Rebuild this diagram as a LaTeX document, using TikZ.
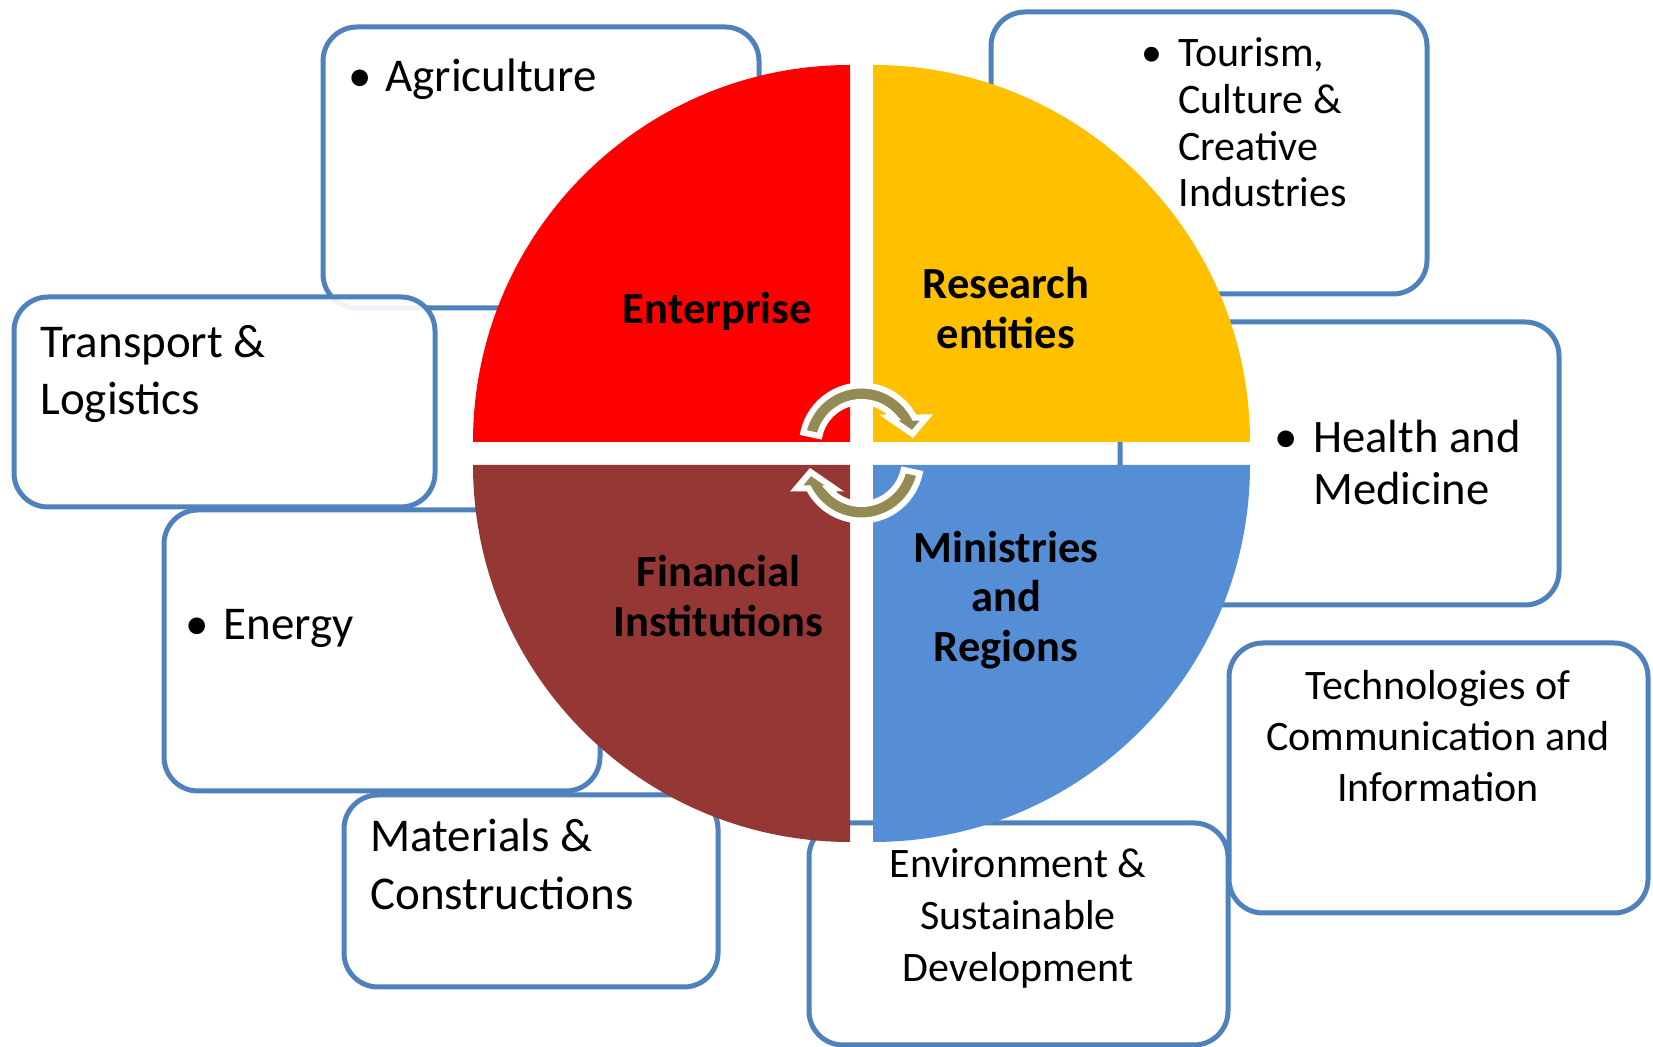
\documentclass[tikz,border=0pt]{standalone}
\usepackage{fontspec}
\setmainfont{Carlito}
\usepackage{xcolor}
\usetikzlibrary{shapes,arrows,calc}

\definecolor{boxblue}{HTML}{4F81BD}
\definecolor{quadred}{HTML}{FF0000}
\definecolor{quadyellow}{HTML}{FFC000}
\definecolor{quadbrown}{HTML}{953735}
\definecolor{quadblue}{HTML}{558ED5}
\definecolor{cycleolive}{HTML}{948A54}

\begin{document}
\begin{tikzpicture}[
    x=0.5pt, y=0.5pt,
    sector/.style={draw=boxblue, line width=2.5pt, fill=white, fill opacity=0.9, rounded corners=17pt},
    itemtext/.style={anchor=base west, align=left, inner sep=0pt, font=\fontsize{23.5}{28.5}\selectfont},
    bulletmark/.style={anchor=base, inner sep=0pt, font=\fontsize{23.5}{28.5}\selectfont},
    centertext/.style={anchor=base, align=center, inner sep=0pt, font=\fontsize{21}{25.5}\selectfont},
    actor/.style={anchor=base, align=center, inner sep=0pt, font=\bfseries\fontsize{22.25}{25}\selectfont},
    cyclearrow/.pic={
        \filldraw[fill=cycleolive, draw=white, line width=3pt]
            (168:59.5) arc[start angle=168, end angle=27.5, radius=59.5]
            -- (65,27.5) -- (51,11) -- (27,27.5)
            -- (39.8:43) arc[start angle=39.8, end angle=168, radius=43] -- cycle;
    }
]
\useasboundingbox (0,0) rectangle (1653,1047);

% sector boxes, back to front
\draw[sector] (323,739) rectangle (759,1020);
\draw[sector] (14,540) rectangle (435,750);
\draw[sector] (164,256) rectangle (600,537);
\draw[sector] (344,60) rectangle (718,252);
\draw[sector] (991,753) rectangle (1427,1035);
\draw[sector] (1120,442) rectangle (1559,725);
\draw[sector] (809,2) rectangle (1228,224);
\draw[sector] (1229,134) rectangle (1648,404);

% sector texts (multi-line nodes sit on their last baseline)
\node[bulletmark] (agriDot) at (360,955) {•};
\node[itemtext] (agriculture) at (385,955) {Agriculture};
\node[itemtext] (transport) at (40,632) {Transport \&\\Logistics};
\node[bulletmark] (energyDot) at (197,407) {•};
\node[itemtext] (energy) at (223,407) {Energy};
\node[itemtext, font=\fontsize{23.5}{29}\selectfont] (materials) at (370,137) {Materials \&\\Constructions};
\node[bulletmark, font=\fontsize{21}{23.35}\selectfont] (tourismDot) at (1152,980) {•};
\node[itemtext, font=\fontsize{21}{23.35}\selectfont] (tourism) at (1178,840) {Tourism,\\Culture \&\\Creative\\Industries};
\node[bulletmark] (healthDot) at (1286,594) {•};
\node[itemtext, font=\fontsize{23.3}{26}\selectfont] (health) at (1313,542) {Health and\\Medicine};
\node[centertext] (technologies) at (1438,245) {Technologies of\\Communication and\\Information};
\node[centertext, font=\fontsize{21}{26}\selectfont] (environment) at (1018,65) {Environment \&\\Sustainable\\Development};

% the four quadrants
\fill[quadred] (850,605) -- ++(-377,0) arc[start angle=180, end angle=90, radius=377] -- cycle;
\fill[quadyellow] (873,605) -- ++(0,377) arc[start angle=90, end angle=0, radius=377] -- cycle;
\fill[quadbrown] (850,582) -- ++(-377,0) arc[start angle=180, end angle=270, radius=377] -- cycle;
\fill[quadblue] (873,582) -- ++(377,0) arc[start angle=0, end angle=-90, radius=377] -- cycle;

% cycle arrows in the middle
\pic at (861.5,602) {cyclearrow};
\pic[rotate=180] at (861.5,586) {cyclearrow};

% actors
\node[actor] (enterprise) at (717.5,723) {Enterprise};
\node[actor] (research) at (1006,698) {Research\\entities};
\node[actor] (financial) at (718.5,410.5) {Financial\\Institutions};
\node[actor, font=\bfseries\fontsize{22.25}{24.75}\selectfont] (ministries) at (1006,385.5) {Ministries\\and\\Regions};
\end{tikzpicture}
\end{document}
